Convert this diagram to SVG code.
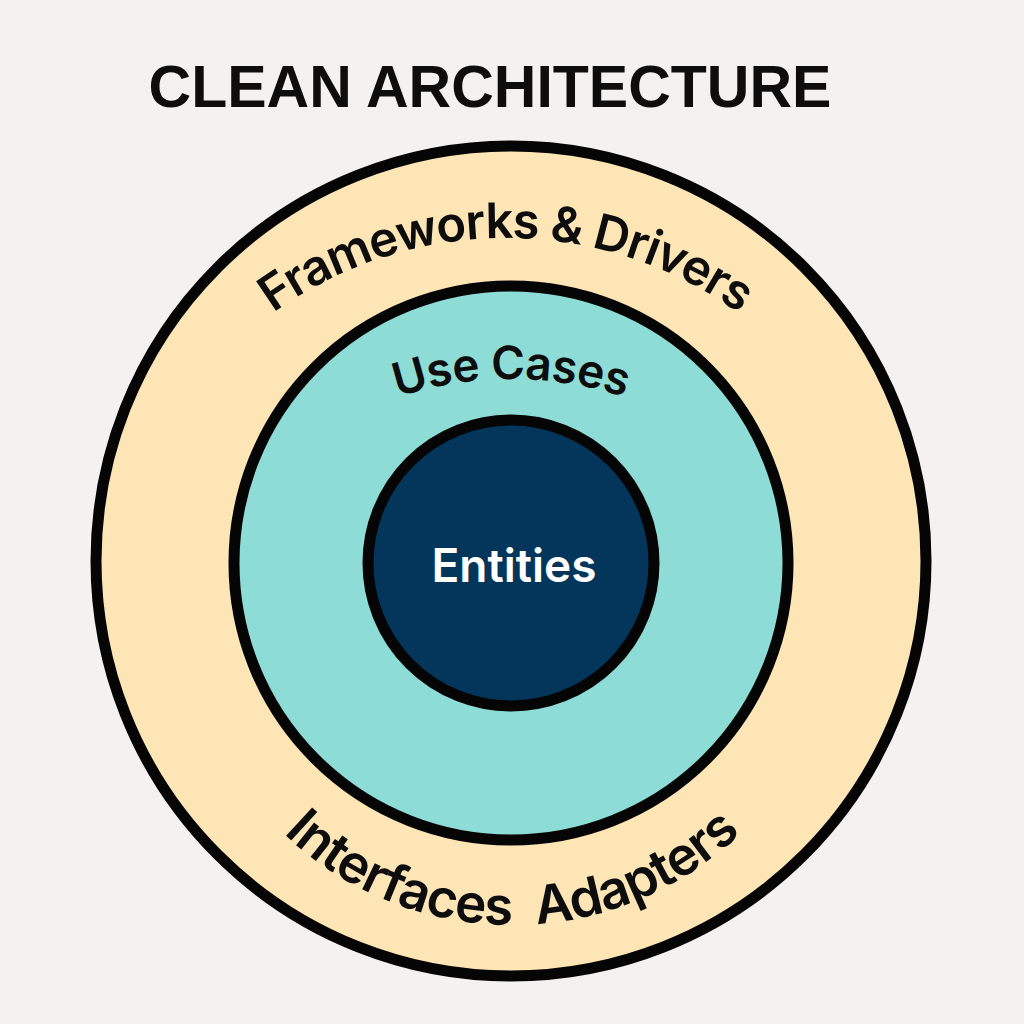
<svg xmlns="http://www.w3.org/2000/svg" width="1024" height="1024" viewBox="0 0 1024 1024">
  <style>
    .ring { stroke: #050505; stroke-width: 11; }
    .lbl { font-family: Inter, "Noto Sans", "Liberation Sans", sans-serif; font-weight: 600; fill: #0d0d0d; }
    .title { font-family: "Liberation Sans", Arial, sans-serif; font-weight: 700; font-size: 59px; fill: #0d0d0d; }
  </style>
  <defs>
    <path id="arcFrameworks" d="M 107,637 A 399 399 0 0 1 905,637"/>
    <path id="arcUseCases" d="M 148,742 A 363 363 0 0 1 874,742"/>
    <path id="arcInterfaces" d="M 181,594 A 331 331 0 0 0 843,594"/>
  </defs>
  <rect width="1024" height="1024" fill="#f3f2f0"/>
  <text id="title" class="title" x="490" y="107" text-anchor="middle">CLEAN ARCHITECTURE</text>
  <g id="frameworks-drivers">
    <circle class="ring" cx="511" cy="561" r="415" fill="#fde5b6"/>
    <text class="lbl" font-size="49" letter-spacing="-1.2"><textPath href="#arcFrameworks" startOffset="50%" text-anchor="middle">Frameworks &amp; Drivers</textPath></text>
    <text class="lbl" font-size="53" letter-spacing="-0.8" style="white-space:pre"><textPath href="#arcInterfaces" startOffset="50%" text-anchor="middle">Interfaces  Adapters</textPath></text>
  </g>
  <g id="use-cases">
    <circle class="ring" cx="511" cy="563" r="277" fill="#8edcd6"/>
    <text class="lbl" font-size="46" letter-spacing="-0.6"><textPath href="#arcUseCases" startOffset="50%" text-anchor="middle">Use Cases</textPath></text>
  </g>
  <g id="entities">
    <circle class="ring" cx="511" cy="563" r="143" fill="#03365a"/>
    <text x="514" y="582" text-anchor="middle" font-family="Inter, 'Noto Sans', sans-serif" font-weight="600" font-size="46" fill="#ffffff">Entities</text>
  </g>
</svg>
